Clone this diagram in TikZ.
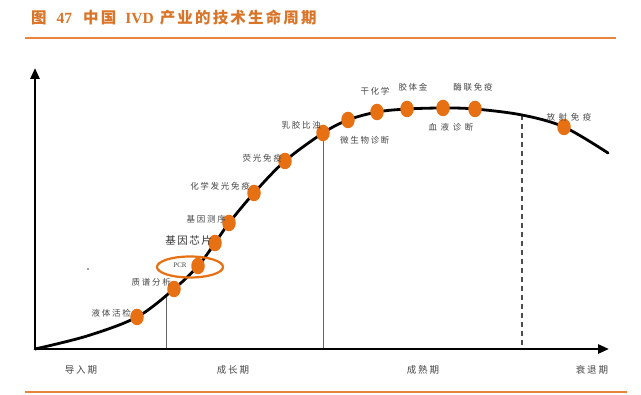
\documentclass[tikz,border=0pt]{standalone}
\usepackage{fontspec}
\setmainfont{Liberation Serif}
\newfontfamily\cjk{Noto Sans CJK SC}
\newfontfamily\cjkl[LetterSpace=20]{Noto Sans CJK SC}
\newfontfamily\cjkt[LetterSpace=14]{Noto Sans CJK SC}
\usetikzlibrary{arrows.meta,shapes.geometric}
\definecolor{dotorange}{RGB}{230,112,18}
\definecolor{titleorange}{RGB}{218,116,40}
\definecolor{ruleorange}{RGB}{232,132,60}
\definecolor{labelgray}{RGB}{70,70,70}
\begin{document}
\begin{tikzpicture}[x=1pt,y=-1pt,
  dot/.style={ellipse,fill=dotorange,minimum width=13.5pt,minimum height=16.5pt,inner sep=0pt},
  lbl/.style={font=\cjkl\fontsize{8.5}{9}\selectfont,text=labelgray,inner sep=0pt},
  phase/.style={font=\cjkl\fontsize{9.5}{10}\selectfont,text=labelgray,inner sep=0pt},
  axisline/.style={line width=2.6pt,-{Triangle[length=11pt,width=9pt]}},
  curveline/.style={line width=2.8pt,line cap=round},
  guide/.style={draw=gray!80!black,line width=0.7pt},
  guidedash/.style={draw=black!70,line width=1.6pt,dash pattern=on 5pt off 4pt},
  rulebar/.style={draw=ruleorange,line width=2pt}]
\fill[white] (0,0) rectangle (641,395);
\useasboundingbox (0,0) rectangle (641,395);
% title
\node[anchor=west,inner sep=0pt,text=titleorange,font=\fontsize{15.5}{16}\selectfont\bfseries] (title) at (31,18)
  {{\cjk 图}\hspace{10pt}47\hspace{11pt}{\cjkt 中国}\hspace{9pt}IVD\hspace{6pt}{\cjkt 产业的技术生命周期}};
\coordinate (tr1) at (25,38);
\coordinate (tr2) at (616,38);
\draw[rulebar] (tr1) -- (tr2);
\coordinate (br1) at (25,392);
\coordinate (br2) at (627,392);
\draw[rulebar] (br1) -- (br2);
% axes
\coordinate (o) at (35,349);
\coordinate (ytop) at (35,68);
\coordinate (xend) at (609,349);
% curve points
\coordinate (c0) at (87,336);
\coordinate (p1) at (137,317);
\coordinate (p2) at (174,289);
\coordinate (p3) at (198,266);
\coordinate (p4) at (215,243);
\coordinate (p5) at (229,223);
\coordinate (p6) at (254,193);
\coordinate (p7) at (285,161);
\coordinate (p8) at (323,133);
\coordinate (p9) at (348,120);
\coordinate (p10) at (377,112);
\coordinate (p11) at (407,109);
\coordinate (p12) at (443,108);
\coordinate (p13) at (475,109);
\coordinate (c1) at (522,115);
\coordinate (p14) at (564,127);
\coordinate (cend) at (608,153);
\coordinate (v1) at (166,296);
% guide lines
\draw[guide] (v1) -- (v1 |- o);
\draw[guide] (p8) -- (p8 |- o);
\draw[guidedash] (c1) -- (c1 |- o);
% curve
\draw[curveline] plot[smooth,tension=0.55] coordinates {(o) (c0) (p1) (p2) (p3) (p4) (p5) (p6) (p7) (p8) (p9) (p10) (p11) (p12) (p13) (c1) (p14) (cend)};
\draw[axisline] (o) -- (ytop);
\draw[axisline] (o) -- (xend);
% dots
\foreach \i in {1,...,14} \node[dot] (d\i) at (p\i) {};
% PCR ring
\node[ellipse,draw=dotorange,line width=2.2pt,minimum width=66pt,minimum height=21pt,inner sep=0pt] (ring) at (190,267) {};
% speck
\fill[black!70] (88,269) circle (0.9pt);
% labels
\node[lbl,anchor=east] (l1) at (131,313) {液体活检};
\node[lbl,anchor=east] (l2) at (171,282) {质谱分析};
\node[inner sep=0pt,text=labelgray,font=\fontsize{7}{7}\selectfont] (l3) at (180,265) {PCR};
\node[lbl,anchor=east,text=black!80,font=\cjkt\fontsize{10.5}{11}\selectfont] (l4) at (212,241) {基因芯片};
\node[lbl,anchor=east] (l5) at (226,219) {基因测序};
\node[lbl,anchor=east] (l6) at (250,186) {化学发光免疫};
\node[lbl,anchor=east] (l7) at (282,158) {荧光免疫};
\node[lbl,anchor=east] (l8) at (321,125) {乳胶比浊};
\node[lbl,anchor=west] (l9) at (340,140) {微生物诊断};
\node[lbl] (l10) at (375,91) {干化学};
\node[lbl] (l11) at (413,87) {胶体金};
\node[lbl] (l12) at (451,127) {血 液 诊 断};
\node[lbl] (l13) at (473,87) {酶联免疫};
\node[lbl] (l14) at (569,117) {放 射 免 疫};
% phases
\node[phase] (ph1) at (81,370) {导入期};
\node[phase] (ph2) at (233,370) {成长期};
\node[phase] (ph3) at (423,370) {成熟期};
\node[phase] (ph4) at (592,370) {衰退期};
\end{tikzpicture}
\end{document}
